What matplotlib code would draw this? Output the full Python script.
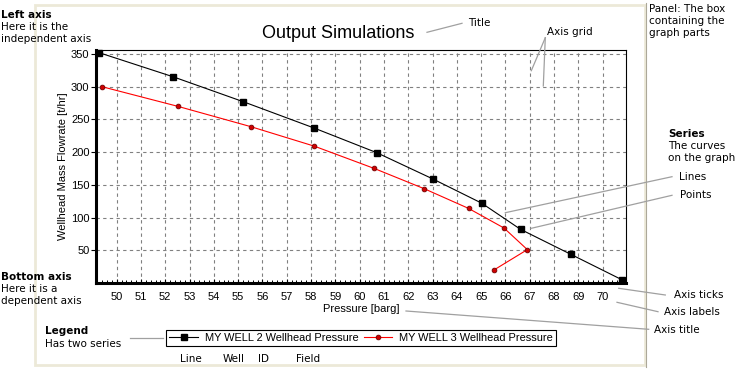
import matplotlib
matplotlib.use("Agg")
import matplotlib.pyplot as plt
from matplotlib.lines import Line2D
from matplotlib.patches import Rectangle
from matplotlib.ticker import MultipleLocator

# ---- data ----
pressure_w2 = [49.27, 52.33, 55.21, 58.11, 60.71, 63.01, 65.02, 66.62, 68.68, 70.79]
flow_w2 = [352, 315, 277, 237, 199, 159, 122, 82, 44, 5]
pressure_w3 = [49.39, 52.51, 55.51, 58.14, 60.60, 62.66, 64.48, 65.94, 66.90, 65.53]
flow_w3 = [300, 270, 239, 209, 175, 144, 114, 84, 51, 20]
x_ticks = list(range(50, 71))
y_ticks = [50, 100, 150, 200, 250, 300, 350]
series_labels = ["MY WELL 2 Wellhead Pressure", "MY WELL 3 Wellhead Pressure"]

W, H = 744, 370
plt.rcParams['font.family'] = ['Liberation Sans', 'DejaVu Sans']

fig = plt.figure(figsize=(W / 100, H / 100), dpi=100)
fig.patch.set_facecolor('white')


def P(x, y):
    return (x / W, 1 - y / H)


# panel frame
fig.add_artist(Rectangle(P(34.7, 364.7), (644.8 - 34.7) / W, (364.7 - 4.7) / H,
                         transform=fig.transFigure, facecolor='none',
                         edgecolor='#ECE9D8', linewidth=2.0, zorder=0))
fig.add_artist(Line2D([646 / W, 646 / W], [1 - 3 / H, 1 - 367 / H],
                      transform=fig.transFigure, color='#ACA899', lw=0.8))

ax_l, ax_r, ax_t, ax_b = 96, 626, 50, 283
ax = fig.add_axes([ax_l / W, 1 - ax_b / H, (ax_r - ax_l) / W, (ax_b - ax_t) / H])
ax.set_facecolor('white')

ax.plot(pressure_w2, flow_w2, color='black', lw=0.8, marker='s', ms=4.5,
        mfc='black', mec='black', label=series_labels[0], zorder=3, clip_on=False)
ax.plot(pressure_w3, flow_w3, color='#ff0000', lw=0.8, marker='o', ms=3.4,
        mfc='#d00000', mec='#700000', mew=0.6, label=series_labels[1], zorder=3)

ax.set_xlim(49.15, 70.96)
ax.set_ylim(0, 356)
ax.set_xticks(x_ticks)
ax.set_yticks(y_ticks)
ax.xaxis.set_minor_locator(MultipleLocator(0.2))
ax.grid(True, which='major', color='#808080', lw=0.8, linestyle=(0, (3, 3)))
ax.set_axisbelow(True)

for s in ['top', 'right']:
    ax.spines[s].set_linewidth(0.8)
for s in ['left', 'bottom']:
    ax.spines[s].set_linewidth(2.2)

ax.tick_params(axis='x', which='major', direction='in', length=3, width=0.8,
               labelsize=8, pad=6.5)
ax.tick_params(axis='x', which='minor', direction='in', length=2, width=0.7)
ax.tick_params(axis='y', which='major', direction='out', length=3.5, width=0.8,
               labelsize=8, pad=1.2)

ax.set_xlabel('Pressure [barg]', fontsize=8)
ax.xaxis.set_label_coords(0.5, (ax_b - 304.5) / (ax_b - ax_t))
ax.set_ylabel('Wellhead Mass Flowrate [t/hr]', fontsize=8)
ax.yaxis.set_label_coords((68 - ax_l) / (ax_r - ax_l), 0.5)

fig.text(*P(338.5, 33), 'Output Simulations', fontsize=13, ha='center', va='center')

leg = fig.legend(loc='center', bbox_to_anchor=P(361, 338.2), ncol=2, fontsize=7.9,
                 frameon=True, fancybox=False, edgecolor='black', framealpha=1,
                 handlelength=2.6, handletextpad=0.6, columnspacing=0.5,
                 borderpad=0.3, borderaxespad=0)
leg.get_frame().set_linewidth(0.8)

# ---- annotations ----
af = ['DejaVu Sans']
asz = 7.5


def note(x, y, s, bold=False):
    fig.text(*P(x, y), s, fontsize=asz, family=af, ha='left', va='center',
             fontweight='bold' if bold else 'normal')


note(1, 14.5, 'Left axis', True)
note(1, 26.5, 'Here it is the')
note(1, 38.5, 'independent axis')
note(1, 276.7, 'Bottom axis', True)
note(1, 288.7, 'Here it is a')
note(1, 300.7, 'dependent axis')
note(45, 331.3, 'Legend', True)
note(45, 343.7, 'Has two series')
note(468, 23, 'Title')
note(547, 31.7, 'Axis grid')
note(649, 9.3, 'Panel: The box')
note(649, 21.5, 'containing the')
note(649, 33.3, 'graph parts')
note(668, 134.3, 'Series', True)
note(668, 146, 'The curves')
note(668, 157.7, 'on the graph')
note(679, 176.7, 'Lines')
note(680, 195.3, 'Points')
note(674, 295.3, 'Axis ticks')
note(664, 312.3, 'Axis labels')
note(654, 330, 'Axis title')
note(180, 359, 'Line')
note(223, 359, 'Well')
note(258, 359, 'ID')
note(296, 359, 'Field')


def lead(x0, y0, x1, y1):
    a, b = P(x0, y0)
    c, d = P(x1, y1)
    fig.add_artist(Line2D([a, c], [b, d], transform=fig.transFigure,
                          color='#a0a0a0', lw=0.9, zorder=10))


lead(427, 32.3, 462, 23.3)
lead(545.3, 37.7, 531.3, 70.7)
lead(545.3, 37.7, 543.3, 86)
lead(672, 176.7, 505.3, 212.7)
lead(672, 195.3, 531.3, 228.3)
lead(618.7, 288.3, 665.3, 295)
lead(617, 302.3, 658, 311.7)
lead(406, 311, 648.7, 329.3)
lead(130, 338, 163, 338)

fig.savefig('out.png', dpi=100, facecolor='white')
